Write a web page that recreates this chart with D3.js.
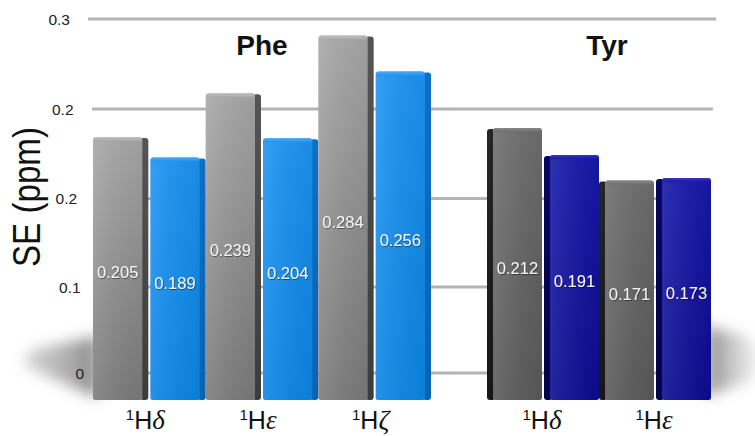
<!DOCTYPE html>
<html>
<head>
<meta charset="utf-8">
<script src="https://cdn.jsdelivr.net/npm/d3@7/dist/d3.min.js"></script>
<style>
  html, body { margin: 0; padding: 0; background: #ffffff; }
  svg { display: block; }
</style>
</head>
<body>
<svg id="chart" width="755" height="436"></svg>
<script>
// Residue groups and their proton categories
const groupNames = ["Phe", "Tyr"];
const pheCategories = ["δ", "ε", "ζ"];
const tyrCategories = ["δ", "ε"];

// SE values (ppm): first and second series per category
const pheFirst  = [0.205, 0.239, 0.284];
const pheSecond = [0.189, 0.204, 0.256];
const tyrFirst  = [0.212, 0.171];
const tyrSecond = [0.191, 0.173];

// Axis ticks on the back wall and the labels printed beside them
const yTicks = [0, 0.075, 0.15, 0.225, 0.3];
const yTickLabels = ["0", "0.1", "0.2", "0.2", "0.3"];

const svg = d3.select("#chart");
const defs = svg.append("defs");

// Bar heights measured on the front plane of the boxes
const yBar = d3.scaleLinear().domain([0, 0.3]).range([400, 15]);
// Back wall (gridlines) sits slightly higher and is foreshortened
const yWall = d3.scalePow().exponent(1.02).domain([0, 0.3]).range([373, 19]);
// The wall's left edge leans, so tick labels drift right toward the floor
const labelRight = d3.scaleLinear().domain([19, 373]).range([70, 84]);
const gridLeft = d3.scaleLinear().domain([19, 373]).range([88, 104]);
const gridRight = d3.scaleLinear().domain([19, 373]).range([716, 704]);

// Group layouts: horizontal span and which side the depth face shows on
const layout = {
  Phe: { cats: pheCategories, first: pheFirst, second: pheSecond, range: [93, 431], side: "right",
         colors: [
           { top: "#a9a9a9", bottom: "#7b7b7b", sideTop: "#555", sideBottom: "#3c3c3c", cap: "#c4c4c4" },
           { top: "#1d94f4", bottom: "#0b86e6", sideTop: "#0c6fc4", sideBottom: "#0a62b0", cap: "#4aaef8" }
         ] },
  Tyr: { cats: tyrCategories, first: tyrFirst, second: tyrSecond, range: [487, 711], side: "left",
         colors: [
           { top: "#6f6f6f", bottom: "#5a5a5a", sideTop: "#262626", sideBottom: "#161616", cap: "#8a8a8a" },
           { top: "#1818ab", bottom: "#0c0c92", sideTop: "#06065e", sideBottom: "#030348", cap: "#3a3ac0" }
         ] }
};

// Soft floor shadows
const blur = defs.append("filter").attr("id", "soft").attr("x", "-50%").attr("y", "-50%")
  .attr("width", "200%").attr("height", "200%");
blur.append("feGaussianBlur").attr("stdDeviation", 7);

const shadowGradL = defs.append("linearGradient").attr("id", "shadowL").attr("x1", 0).attr("x2", 1);
shadowGradL.append("stop").attr("offset", 0).attr("stop-color", "#bcbcbc").attr("stop-opacity", 0.6);
shadowGradL.append("stop").attr("offset", 1).attr("stop-color", "#8a8a8a").attr("stop-opacity", 1);
const shadowGradR = defs.append("linearGradient").attr("id", "shadowR").attr("x1", 0).attr("x2", 1);
shadowGradR.append("stop").attr("offset", 0).attr("stop-color", "#8a8a8a").attr("stop-opacity", 1);
shadowGradR.append("stop").attr("offset", 1).attr("stop-color", "#cfcfcf").attr("stop-opacity", 0.3);

svg.append("path")
  .attr("d", "M98,336 L30,350 L24,366 L98,398 Z")
  .attr("fill", "url(#shadowL)").attr("filter", "url(#soft)");
svg.append("path")
  .attr("d", "M706,326 L745,336 L760,352 L752,380 L706,396 Z")
  .attr("fill", "url(#shadowR)").attr("filter", "url(#soft)");

// Back-wall gridlines and tick labels
const grid = svg.append("g");
grid.selectAll("line").data(yTicks).join("line")
  .attr("x1", d => gridLeft(yWall(d)))
  .attr("x2", d => gridRight(yWall(d)))
  .attr("y1", d => yWall(d))
  .attr("y2", d => yWall(d))
  .attr("stroke", "#b3b3b3").attr("stroke-width", 3);

grid.selectAll("text").data(yTicks).join("text")
  .attr("x", d => labelRight(yWall(d)))
  .attr("y", d => yWall(d))
  .attr("dy", "0.38em")
  .attr("text-anchor", "end")
  .attr("font-family", "Liberation Sans, Arial, sans-serif")
  .attr("font-size", 15.5)
  .attr("fill", "#222")
  .text((d, i) => yTickLabels[i]);

// Axis title
svg.append("text")
  .attr("transform", "translate(40,197) rotate(-90)")
  .attr("text-anchor", "middle")
  .attr("font-family", "Liberation Sans, Arial, sans-serif")
  .attr("font-size", 38)
  .attr("textLength", 140)
  .attr("lengthAdjust", "spacingAndGlyphs")
  .attr("fill", "#111")
  .text("SE (ppm)");

// Text shadow for value labels
const ts = defs.append("filter").attr("id", "tshadow").attr("x", "-20%").attr("y", "-40%")
  .attr("width", "140%").attr("height", "180%");
ts.append("feDropShadow").attr("dx", 0.6).attr("dy", 0.8).attr("stdDeviation", 0.7)
  .attr("flood-color", "#000").attr("flood-opacity", 0.55);

const SIDE = 6;
let gid = 0;

function gradient(c0, c1, vertical) {
  const id = "g" + (gid++);
  const g = defs.append("linearGradient").attr("id", id);
  if (vertical) g.attr("x1", 0).attr("x2", 0).attr("y1", 0).attr("y2", 1);
  else g.attr("x1", 0).attr("x2", 1).attr("y1", 0).attr("y2", 0);
  g.append("stop").attr("offset", 0).attr("stop-color", c0);
  g.append("stop").attr("offset", 1).attr("stop-color", c1);
  return id;
}

// Path with rounded top corners (r) and slightly rounded bottom corners (rb)
function roundedBox(x, y, w, h, r, rb) {
  return `M${x},${y + r} Q${x},${y} ${x + r},${y} L${x + w - r},${y} Q${x + w},${y} ${x + w},${y + r}` +
         ` L${x + w},${y + h - rb} Q${x + w},${y + h} ${x + w - rb},${y + h} L${x + rb},${y + h}` +
         ` Q${x},${y + h} ${x},${y + h - rb} Z`;
}

const catLabels = [];

groupNames.forEach(name => {
  const L = layout[name];
  const xCat = d3.scaleBand().domain(L.cats).range(L.range).paddingInner(0).paddingOuter(0);
  const xSer = d3.scaleBand().domain([0, 1]).range([0, xCat.bandwidth()]).paddingInner(0.035).paddingOuter(0);

  const rows = [];
  L.cats.forEach((c, i) => {
    rows.push({ cat: c, s: 0, v: L.first[i] });
    rows.push({ cat: c, s: 1, v: L.second[i] });
    catLabels.push({ cat: c, x: xCat(c) + xCat.bandwidth() / 2 - (name === "Phe" ? 4 : 1) });
  });

  const g = svg.append("g");
  rows.forEach(d => {
    const col = L.colors[d.s];
    const x0 = xCat(d.cat) + xSer(d.s);
    const bw = xSer.bandwidth();
    const top = yBar(d.v);
    const bottom = yBar(0);
    const h = bottom - top;
    const frontX = L.side === "right" ? x0 : x0 + SIDE;
    const frontW = bw - SIDE;
    const sideX = L.side === "right" ? x0 + frontW - 2 : x0;

    // depth face
    g.append("path")
      .attr("d", roundedBox(sideX, top + 1, SIDE + 2, h - 1, 3, 3))
      .attr("fill", `url(#${gradient(col.sideTop, col.sideBottom, true)})`);

    // front face
    g.append("path")
      .attr("d", roundedBox(frontX, top, frontW, h, 3, 2.5))
      .attr("fill", `url(#${gradient(col.top, col.bottom, true)})`);

    // light sheen across the face
    const sheen = gradient("rgba(255,255,255,0.10)", "rgba(0,0,0,0.06)", false);
    g.append("path")
      .attr("d", roundedBox(frontX, top, frontW, h, 3, 2.5))
      .attr("fill", `url(#${sheen})`);

    // bevelled top edge
    g.append("path")
      .attr("d", roundedBox(frontX + 0.5, top, frontW - 1, 4, 2.5, 1))
      .attr("fill", `url(#${gradient(col.cap, col.top, true)})`)
      .attr("opacity", 0.9);

    // value label at half height
    g.append("text")
      .attr("x", frontX + frontW / 2)
      .attr("y", yBar(d.v / 2) + 4)
      .attr("dy", "0.35em")
      .attr("text-anchor", "middle")
      .attr("font-family", "Liberation Sans, Arial, sans-serif")
      .attr("font-size", 16.5)
      .attr("fill", "#f4f4f4")
      .attr("filter", "url(#tshadow)")
      .text(d3.format(".3f")(d.v));
  });
});

// Group titles
const titleX = { Phe: 262, Tyr: 607 };
svg.selectAll("text.group").data(groupNames).join("text")
  .attr("class", "group")
  .attr("x", d => titleX[d])
  .attr("y", 55)
  .attr("text-anchor", "middle")
  .attr("font-family", "Liberation Sans, Arial, sans-serif")
  .attr("font-weight", "bold")
  .attr("font-size", 28)
  .attr("fill", "#111")
  .text(d => d);

// Category labels: superscript 1, H, italic Greek letter
const cl = svg.selectAll("text.cat").data(catLabels).join("text")
  .attr("class", "cat")
  .attr("x", d => d.x)
  .attr("y", 429)
  .attr("text-anchor", "middle")
  .attr("font-family", "Liberation Sans, Arial, sans-serif")
  .attr("font-size", 25)
  .attr("fill", "#111");
cl.append("tspan").attr("font-size", 15).attr("dy", -9).text("1");
cl.append("tspan").attr("dy", 9).text("H");
cl.append("tspan")
  .attr("font-family", "Liberation Serif, Times New Roman, serif")
  .attr("font-style", "italic")
  .attr("font-size", 27)
  .text(d => d.cat);
</script>
</body>
</html>
